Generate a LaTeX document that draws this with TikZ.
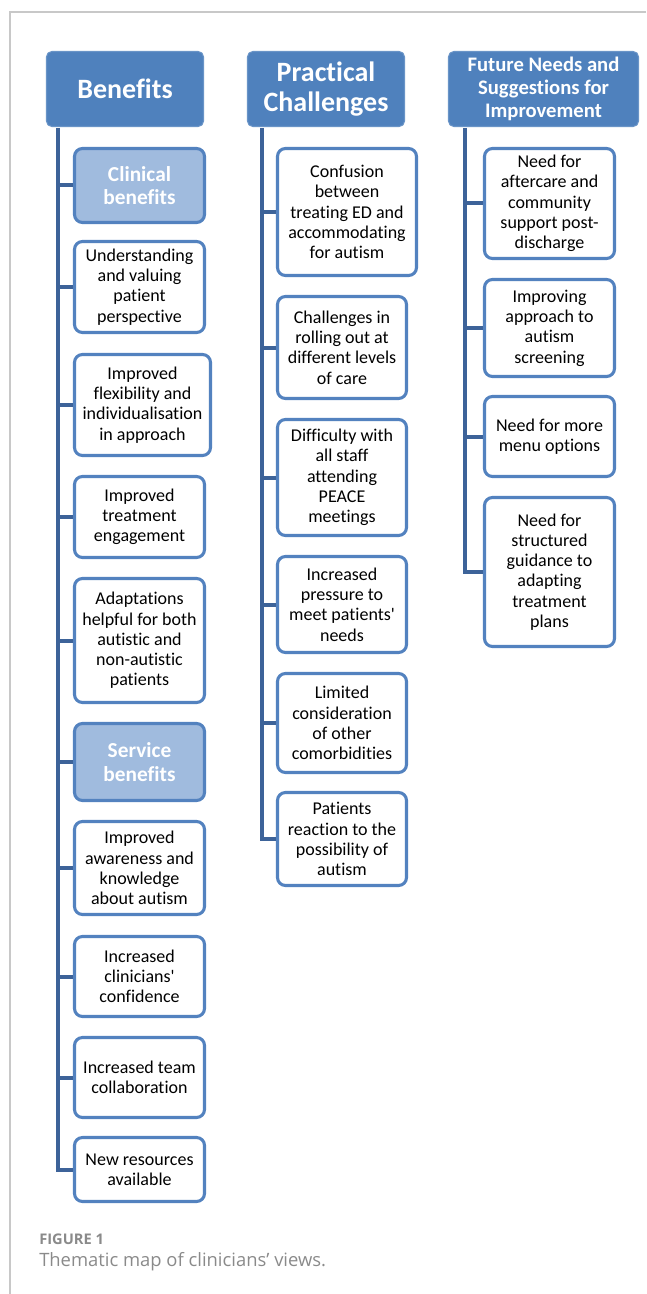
\documentclass[tikz,border=0pt]{standalone}
\usepackage{fontspec}
\setmainfont{Carlito}
\newfontfamily\boxfont[Ligatures={TeXOff,NoCommon}]{Carlito}
\newfontfamily\capfont{Open Sans}
\definecolor{hdr}{HTML}{4F81BD}
\definecolor{edge}{HTML}{5382BF}
\definecolor{sub}{HTML}{A0BBDE}
\definecolor{trunk}{HTML}{3D6399}
\definecolor{frame}{HTML}{C8C8C8}
\definecolor{captxt}{HTML}{8A8A8A}
\newcommand\mkbox[7]{%
  \pgfmathsetmacro\bw{(#4-#2-3)*0.75}%
  \pgfmathsetmacro\bh{(#5-#3-3)*0.75}%
  \node[#6, minimum width=\bw pt, minimum height=\bh pt] (#1) at ({(#2+#4)/2},{(#3+#5)/2}) {#7};%
}
\tikzset{
  x=0.75pt, y=-0.75pt,
  header/.style={fill=hdr, draw=hdr!85!white, line width=0.8pt, rounded corners=4pt,
     text=white, align=center, inner sep=0pt, font=\boxfont\bfseries},
  item/.style={fill=white, draw=edge, line width=2.3pt, rounded corners=6pt,
     align=center, inner sep=0pt, font=\boxfont\fontsize{13.5}{15.2}\selectfont},
  subhead/.style={fill=sub, draw=edge, line width=2.3pt, rounded corners=6pt,
     align=center, inner sep=0pt, text=white, font=\boxfont\bfseries\fontsize{16}{17.5}\selectfont},
  link/.style={draw=trunk, line width=3pt},
}
\begin{document}
\begin{tikzpicture}
\useasboundingbox (0,0) rectangle (646,1294);
\draw[frame, line width=1.2pt] (646,12) -- (10,12) -- (10,1294);

% headers
\mkbox{h1}{45}{50}{205}{128}{header, font=\boxfont\bfseries\fontsize{21}{24}\selectfont}{Benefits}
\mkbox{h2}{246}{50}{406}{128}{header, font=\boxfont\bfseries\fontsize{21}{22.5}\selectfont}{Practical\\Challenges}
\mkbox{h3}{447}{50}{640}{128}{header, font=\boxfont\bfseries\fontsize{15.5}{17}\selectfont}{Future Needs and\\Suggestions for\\Improvement}

% column 1
\mkbox{c1}{73}{147}{206}{224}{subhead}{Clinical\\benefits}
\mkbox{b1}{73}{240}{206}{334}{item}{Understanding\\and valuing\\patient\\perspective}
\mkbox{b2}{73}{353}{212}{457}{item}{Improved\\flexibility and\\individualisation\\in approach}
\mkbox{b3}{73}{475}{206}{559}{item}{Improved\\treatment\\engagement}
\mkbox{b4}{73}{577}{206}{704}{item}{Adaptations\\helpful for both\\autistic and\\non-autistic\\patients}
\mkbox{s1}{73}{722}{206}{802}{subhead}{Service\\benefits}
\mkbox{b5}{73}{820}{206}{916}{item}{Improved\\awareness and\\knowledge\\about autism}
\mkbox{b6}{73}{935}{206}{1018}{item}{Increased\\clinicians'\\confidence}
\mkbox{b7}{73}{1036}{206}{1119}{item}{Increased team\\collaboration}
\mkbox{b8}{73}{1136}{206}{1203}{item}{New resources\\available}

% column 2
\mkbox{p1}{276}{147}{418}{277}{item}{Confusion\\between\\treating ED and\\accommodating\\for autism}
\mkbox{p2}{276}{295}{408}{400}{item}{Challenges in\\rolling out at\\different levels\\of care}
\mkbox{p3}{276}{418}{408}{537}{item}{Difficulty with\\all staff\\attending\\PEACE\\meetings}
\mkbox{p4}{276}{555}{408}{654}{item}{Increased\\pressure to\\meet patients'\\needs}
\mkbox{p5}{276}{672}{408}{774}{item}{Limited\\consideration\\of other\\comorbidities}
\mkbox{p6}{276}{791}{408}{887}{item}{Patients\\reaction to the\\possibility of\\autism}

% column 3
\mkbox{f1}{483}{147}{616}{260}{item}{Need for\\aftercare and\\community\\support post-\\discharge}
\mkbox{f2}{483}{278}{616}{378}{item}{Improving\\approach to\\autism\\screening}
\mkbox{f3}{483}{395}{616}{478}{item}{Need for more\\menu options}
\mkbox{f4}{483}{496}{616}{648}{item}{Need for\\structured\\guidance to\\adapting\\treatment\\plans}

% trunks
\coordinate (t1) at (58,128);
\coordinate (t2) at (262,128);
\coordinate (t3) at (465,128);
\draw[link] (t1) |- (b8.west);
\draw[link] (t2) |- (p6.west);
\draw[link] (t3) |- (f4.west);
\foreach \n in {c1,b1,b2,b3,b4,s1,b5,b6,b7}{\draw[link] (\n.west) -- (t1 |- \n.west);}
\foreach \n in {p1,p2,p3,p4,p5}{\draw[link] (\n.west) -- (t2 |- \n.west);}
\foreach \n in {f1,f2,f3}{\draw[link] (\n.west) -- (t3 |- \n.west);}

% caption
\node[anchor=west, inner sep=0pt, text=captxt, font=\capfont\bfseries\fontsize{11}{12}\selectfont] (cap1) at (39,1239) {FIGURE 1};
\node[anchor=west, inner sep=0pt, text=captxt, font=\capfont\fontsize{13.8}{16}\selectfont] (cap2) at (39,1262) {Thematic map of clinicians’ views.};
\end{tikzpicture}
\end{document}
